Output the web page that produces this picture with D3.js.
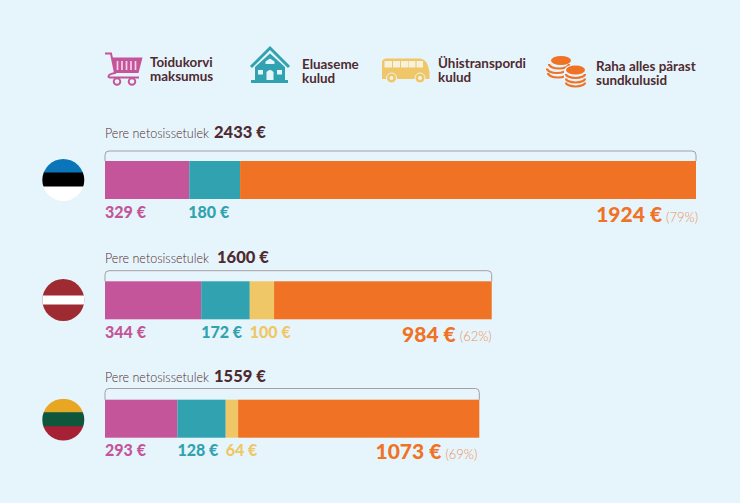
<!DOCTYPE html>
<html>
<head>
<meta charset="utf-8">
<style>
    html, body { margin: 0; padding: 0; background: #e6f5fb; }
    text { font-family: Lato, "Open Sans", sans-serif; }
</style>
<script src="https://cdnjs.cloudflare.com/ajax/libs/d3/7.8.5/d3.min.js"></script>
</head>
<body>
<svg id="chart" width="740" height="503"></svg>
<script>
var totals = [2433, 1600, 1559];
var netLabel = "Pere netosissetulek";

// printed euro labels
var estonia = [329, 180, null, 1924];
var latvia = [344, 172, 100, 984];
var lithuania = [293, 128, 64, 1073];
var percents = [79, 62, 69];

// The bars in the reference are not in proportion to their printed labels,
// so these are the lengths as drawn, read off in euros on the Estonia scale.
var estoniaDrawn = [347, 209, 0, 1877];
var latviaDrawn = [396, 200, 100, 896];
var lithuaniaDrawn = [298, 199, 51, 993];

var legendLabels = [
    ["Toidukorvi", "maksumus"],
    ["Eluaseme", "kulud"],
    ["Ühistranspordi", "kulud"],
    ["Raha alles pärast", "sundkulusid"]
];

var PINK = "#c5559a", TEAL = "#30a2b0", YELLOW = "#efc766", ORANGE = "#f07224";
var DARK = "#4f2a30";
var BG = "#e6f5fb";
var colors = [PINK, TEAL, YELLOW, ORANGE];

var svg = d3.select("#chart");
svg.append("rect").attr("width", 740).attr("height", 503).attr("fill", BG);

var x = d3.scaleLinear().domain([0, 2433]).range([105, 696]);

var rows = [
    {labels: estonia, drawn: estoniaDrawn, top: 161, bracket: 151, head: 137.5, totalX: 214, small: 218, big: 222, cy: 180, pctGap: 2},
    {labels: latvia, drawn: latviaDrawn, top: 281.3, bracket: 270.7, head: 263, totalX: 217, small: 338, big: 341.5, cy: 300, pctGap: 0},
    {labels: lithuania, drawn: lithuaniaDrawn, top: 399.7, bracket: 388.5, head: 382, totalX: 214, small: 456, big: 459, cy: 419.7, pctGap: -2}
];
var barH = 38;

rows.forEach(function (row, i) {
    var g = svg.append("g");
    var end = d3.sum(row.drawn);

    // bracket over the bar
    g.append("path")
        .attr("d", "M" + x(0) + "," + row.top + "V" + (row.bracket + 4) + "q0,-4 4,-4H" + (x(end) - 4) + "q4,0 4,4V" + row.top)
        .attr("fill", "none")
        .attr("stroke", "#a59ea3")
        .attr("stroke-width", 1);

    g.append("text").attr("x", 105).attr("y", row.head)
        .attr("font-size", 14).attr("font-weight", 300).attr("fill", DARK)
        .attr("textLength", 104).attr("lengthAdjust", "spacingAndGlyphs")
        .text(netLabel);
    g.append("text").attr("x", row.totalX).attr("y", row.head)
        .attr("font-size", 16.5).attr("font-weight", 900).attr("fill", DARK)
        .text(totals[i] + " €");

    var acc = 0;
    row.drawn.forEach(function (d, j) {
        if (d > 0) {
            g.append("rect")
                .attr("x", x(acc)).attr("y", row.top)
                .attr("width", x(acc + d) - x(acc)).attr("height", barH)
                .attr("fill", colors[j]);
            if (j < 3) {
                g.append("text")
                    .attr("x", x(acc) + (j == 1 && i == 0 ? -1 : 0)).attr("y", row.small)
                    .attr("font-size", 16).attr("font-weight", 900).attr("fill", colors[j])
                    .text(row.labels[j] + " €");
            }
        }
        acc += d;
    });

    // big orange label and share, right aligned to the bar end
    var pct = g.append("text").attr("x", x(end) + row.pctGap).attr("y", row.big - 0.5)
        .attr("text-anchor", "end")
        .attr("font-size", 13).attr("font-weight", 300).attr("fill", "#ee8f58")
        .text("(" + percents[i] + "%)");
    var pctW = pct.node().getComputedTextLength();
    g.append("text").attr("x", x(end) + row.pctGap - pctW - 4).attr("y", row.big)
        .attr("text-anchor", "end")
        .attr("font-size", 21).attr("font-weight", 900).attr("fill", ORANGE)
        .text(row.labels[3] + " €");
});

// flags
var flagStripes = [
    [["#0a76b9", -21, 14], ["#ffffff", 6, 15], ["#000000", -7.5, 14]],
    [["#9e2a32", -21, 42], ["#ffffff", -4.5, 9]],
    [["#a62036", 6, 15], ["#e8a723", -21, 14], ["#0f573c", -7.5, 14]]
];
var defs = svg.append("defs");
rows.forEach(function (row, i) {
    defs.append("clipPath").attr("id", "flag" + i)
        .append("circle").attr("cx", 63.3).attr("cy", row.cy).attr("r", 21);
    svg.append("g").attr("clip-path", "url(#flag" + i + ")")
        .selectAll("rect").data(flagStripes[i]).join("rect")
        .attr("x", 42).attr("width", 43)
        .attr("y", function (d) { return row.cy + d[1]; })
        .attr("height", function (d) { return d[2]; })
        .attr("fill", function (d) { return d[0]; });
});

// legend text, two lines in one text element
var legendPos = [[150, 67], [302, 69], [438, 68], [596, 71]];
legendLabels.forEach(function (lines, i) {
    var t = svg.append("text")
        .attr("font-size", 13.4).attr("font-weight", 700).attr("fill", DARK);
    lines.forEach(function (line, k) {
        t.append("tspan")
            .attr("x", legendPos[i][0]).attr("y", legendPos[i][1] + k * 14)
            .text(line);
    });
});

drawCart(svg.append("g"));
drawHouse(svg.append("g"));
drawBus(svg.append("g"));
drawCoins(svg.append("g"));

function drawCart(g) {
    g.append("path").attr("d", "M105,53.5H111L115,73Q108.5,74 108.5,76.5Q108.5,77.5 111,77.5H139")
        .attr("fill", "none").attr("stroke", PINK).attr("stroke-width", 2);
    g.append("path").attr("d", "M112,57.5H142.5L138.5,73H115Z").attr("fill", PINK);
    [117.5, 122, 126.5, 131, 135.5].forEach(function (sx) {
        g.append("path").attr("d", "M" + sx + ",61V70")
            .attr("stroke", "#f3d3e6").attr("stroke-width", 1.7);
    });
    [117, 132].forEach(function (cx) {
        g.append("circle").attr("cx", cx).attr("cy", 81.5).attr("r", 3.3)
            .attr("fill", BG).attr("stroke", PINK).attr("stroke-width", 1.9);
    });
}

function drawHouse(g) {
    g.append("path").attr("d", "M251,67L270,48L289,67").attr("fill", "none")
        .attr("stroke", TEAL).attr("stroke-width", 3);
    g.append("path").attr("d", "M255,67L270,53.5L285,67V80H288V83H251V80H255Z").attr("fill", TEAL);
    g.append("path").attr("d", "M265.5,64V61.5L270,58.5L274.5,61.5V64Z").attr("fill", BG);
    g.append("rect").attr("x", 258).attr("y", 70).attr("width", 5).attr("height", 4.5).attr("fill", BG);
    g.append("rect").attr("x", 277).attr("y", 70).attr("width", 5).attr("height", 4.5).attr("fill", BG);
    g.append("path").attr("d", "M266.5,80V72Q270,68 273.5,72V80Z").attr("fill", BG);
}

function drawBus(g) {
    g.append("path").attr("d", "M386,58.5H420Q426,59 428,66L429.5,72V79H382V62Q382,59 386,58.5Z").attr("fill", YELLOW);
    [[384.5, 7.5], [393, 7], [401, 7], [408.5, 7], [416.5, 6.5]].forEach(function (w) {
        g.append("rect").attr("x", w[0]).attr("y", 61).attr("width", w[1]).attr("height", 6.5).attr("fill", "#f8f1dc");
    });
    [391.5, 420].forEach(function (cx) {
        g.append("circle").attr("cx", cx).attr("cy", 78).attr("r", 5)
            .attr("fill", YELLOW).attr("stroke", BG).attr("stroke-width", 1);
        g.append("circle").attr("cx", cx).attr("cy", 78).attr("r", 2)
            .attr("fill", "#f8f1dc");
    });
}

function drawCoins(g) {
    // arcs under each stack, then the coin tops
    [[559, 64], [557, 68.5], [558, 73]].forEach(function (c) {
        g.append("path").attr("d", "M" + (c[0] - 10) + "," + c[1] + "a10,4.5 0 0 0 20,0")
            .attr("fill", "none").attr("stroke", ORANGE).attr("stroke-width", 2.2);
    });
    g.append("ellipse").attr("cx", 561).attr("cy", 60.5).attr("rx", 10).attr("ry", 4.5).attr("fill", ORANGE);
    g.append("path").attr("d", "M564,70H587V90H564Z").attr("fill", BG);
    [74, 78.5, 82.5].forEach(function (cy) {
        g.append("path").attr("d", "M566,"+ cy +"a9.5,4 0 0 0 19,0")
            .attr("fill", "none").attr("stroke", ORANGE).attr("stroke-width", 2.2);
    });
    g.append("ellipse").attr("cx", 575.5).attr("cy", 70).attr("rx", 11).attr("ry", 5.5).attr("fill", BG);
    g.append("ellipse").attr("cx", 575.5).attr("cy", 70).attr("rx", 9.5).attr("ry", 4.5).attr("fill", ORANGE);
}
</script>
</body>
</html>
